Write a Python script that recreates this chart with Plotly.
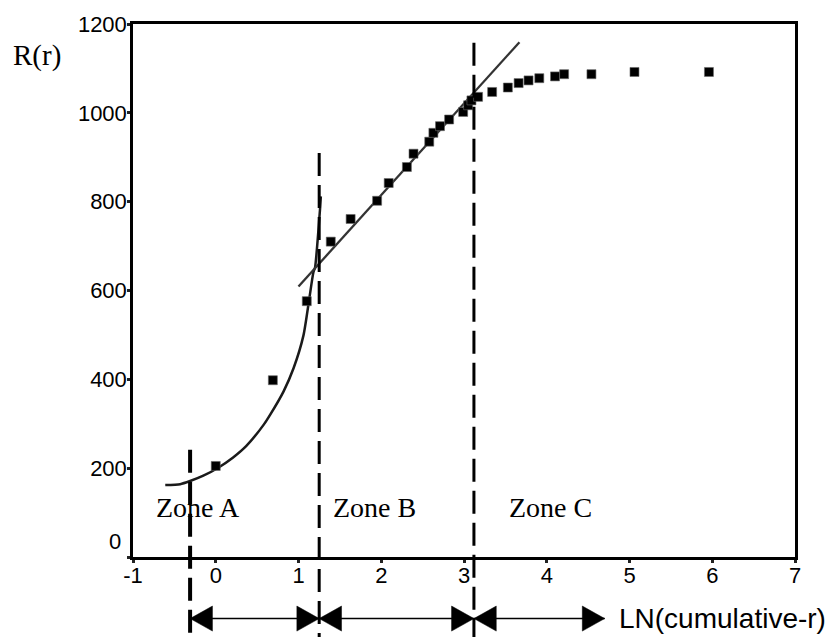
import plotly.graph_objects as go

# ---- data ----
ln_r = [0.00, 0.69, 1.10, 1.39, 1.63, 1.95, 2.09, 2.31, 2.39, 2.58, 2.63, 2.71, 2.82,
        2.99, 3.05, 3.09, 3.17, 3.34, 3.53, 3.66, 3.78, 3.91, 4.10, 4.21, 4.54, 5.06, 5.96]
R_r = [205, 398, 576, 710, 761, 802, 842, 878, 908, 935, 955, 970, 985,
       1002, 1017, 1028, 1036, 1047, 1057, 1067, 1073, 1078, 1082, 1087, 1087, 1092, 1092]

# fitted curve of zone A (as drawn)
curve_a_x = [-0.61, -0.43, -0.31, -0.15, 0.03, 0.21, 0.37, 0.58, 0.66, 0.82, 0.94, 1.06, 1.13, 1.18, 1.20, 1.26, 1.27]
curve_a_y = [162, 164, 171, 183, 201, 224, 250, 298, 321, 373, 425, 499, 581, 641, 652, 783, 812]

# fitted straight line of zone B (end points as drawn)
line_b_x = [1.00, 3.67]
line_b_y = [609, 1159]

# zone boundaries on the x axis and end of zone C arrow
zone_bounds = [-0.31, 1.25, 3.12]
zone_c_end = 4.70
zone_names = ["Zone A", "Zone B", "Zone C"]
zone_label_x = [-0.21, 1.92, 4.05]

x_ticks = [-1, 0, 1, 2, 3, 4, 5, 6, 7]
y_ticks = [0, 200, 400, 600, 800, 1000, 1200]
y_tick_text = ["", "200", "400", "600", "800", "1000", "1200"]

fig = go.Figure()

fig.add_trace(go.Scatter(x=curve_a_x, y=curve_a_y, mode="lines",
                         line=dict(color="#1a1a1a", width=2.5, shape="spline", smoothing=0.6),
                         hoverinfo="skip"))
fig.add_trace(go.Scatter(x=line_b_x, y=line_b_y, mode="lines",
                         line=dict(color="#333333", width=2.3), hoverinfo="skip"))
fig.add_trace(go.Scatter(x=ln_r, y=R_r, mode="markers",
                         marker=dict(symbol="square", size=9, color="black",
                                     line=dict(color="#666666", width=0.6))))

shapes = []
# zone boundary dashed lines (extend below the axis)
tops = [0.201, 0.758, 0.965]
widths = [4, 3, 3]
for xb, top, w in zip(zone_bounds, tops, widths):
    shapes.append(dict(type="line", xref="x", yref="paper", x0=xb, x1=xb, y0=top, y1=-0.15,
                       line=dict(color="black", width=w, dash="23px,9px")))

# zone arrows below the axis
ya = -0.1155
hh = 0.0235   # half height of arrow head (paper)
hl = 0.27     # arrow head length (data units)
spans = [(zone_bounds[0], zone_bounds[1]), (zone_bounds[1], zone_bounds[2]), (zone_bounds[2], zone_c_end)]
for a, b in spans:
    shapes.append(dict(type="line", xref="x", yref="paper", x0=a, x1=b, y0=ya, y1=ya,
                       line=dict(color="black", width=1.6)))
    shapes.append(dict(type="path", xref="x", yref="paper",
                       path=f"M {a},{ya} L {a+hl},{ya+hh} L {a+hl},{ya-hh} Z",
                       fillcolor="black", line=dict(color="black", width=0.5)))
    shapes.append(dict(type="path", xref="x", yref="paper",
                       path=f"M {b},{ya} L {b-hl},{ya+hh} L {b-hl},{ya-hh} Z",
                       fillcolor="black", line=dict(color="black", width=0.5)))

annotations = []
for name, xl in zip(zone_names, zone_label_x):
    annotations.append(dict(x=xl, y=112, xref="x", yref="y", text=name, showarrow=False,
                            font=dict(family="Liberation Serif", size=28, color="black"),
                            xanchor="center", yanchor="middle"))
annotations.append(dict(x=0, y=0, xref="paper", yref="y", text="0", showarrow=False,
                        xanchor="right", yanchor="middle", xshift=-10, yshift=16,
                        font=dict(family="Liberation Sans", size=22, color="black")))
annotations.append(dict(x=0, y=1130, xref="paper", yref="y", text="R(r)", showarrow=False,
                        xanchor="center", yanchor="middle", xshift=-96,
                        font=dict(family="Liberation Serif", size=29, color="black")))
annotations.append(dict(x=zone_c_end, y=ya, xref="x", yref="paper", text="LN(cumulative-r)",
                        showarrow=False, xanchor="left", yanchor="middle", xshift=12,
                        font=dict(family="Liberation Sans", size=28, color="black")))

fig.update_layout(
    width=834, height=639,
    margin=dict(l=133, r=39, t=20, b=82),
    paper_bgcolor="white", plot_bgcolor="white",
    showlegend=False,
    shapes=shapes, annotations=annotations,
    font=dict(family="Liberation Sans", size=22, color="black"),
)
fig.update_xaxes(range=[-1, 7], tickvals=x_ticks, ticktext=[str(v) for v in x_ticks],
                 showgrid=False, zeroline=False, showline=True, linecolor="black", linewidth=2.5,
                 mirror=True, ticks="outside", ticklen=3, tickwidth=3, tickcolor="#222",
                 ticklabelstandoff=-6,
                 tickfont=dict(family="Liberation Sans", size=22, color="black"))
fig.update_yaxes(range=[0, 1200], tickvals=y_ticks, ticktext=y_tick_text,
                 showgrid=False, zeroline=False, showline=True, linecolor="black", linewidth=2.5,
                 mirror=True, ticks="outside", ticklen=3, tickwidth=3, tickcolor="#222",
                 ticklabelstandoff=-4,
                 tickfont=dict(family="Liberation Sans", size=22, color="black"))

fig.write_html("out.html", config={"displayModeBar": False},
               post_script="document.body.style.margin='0px';")
